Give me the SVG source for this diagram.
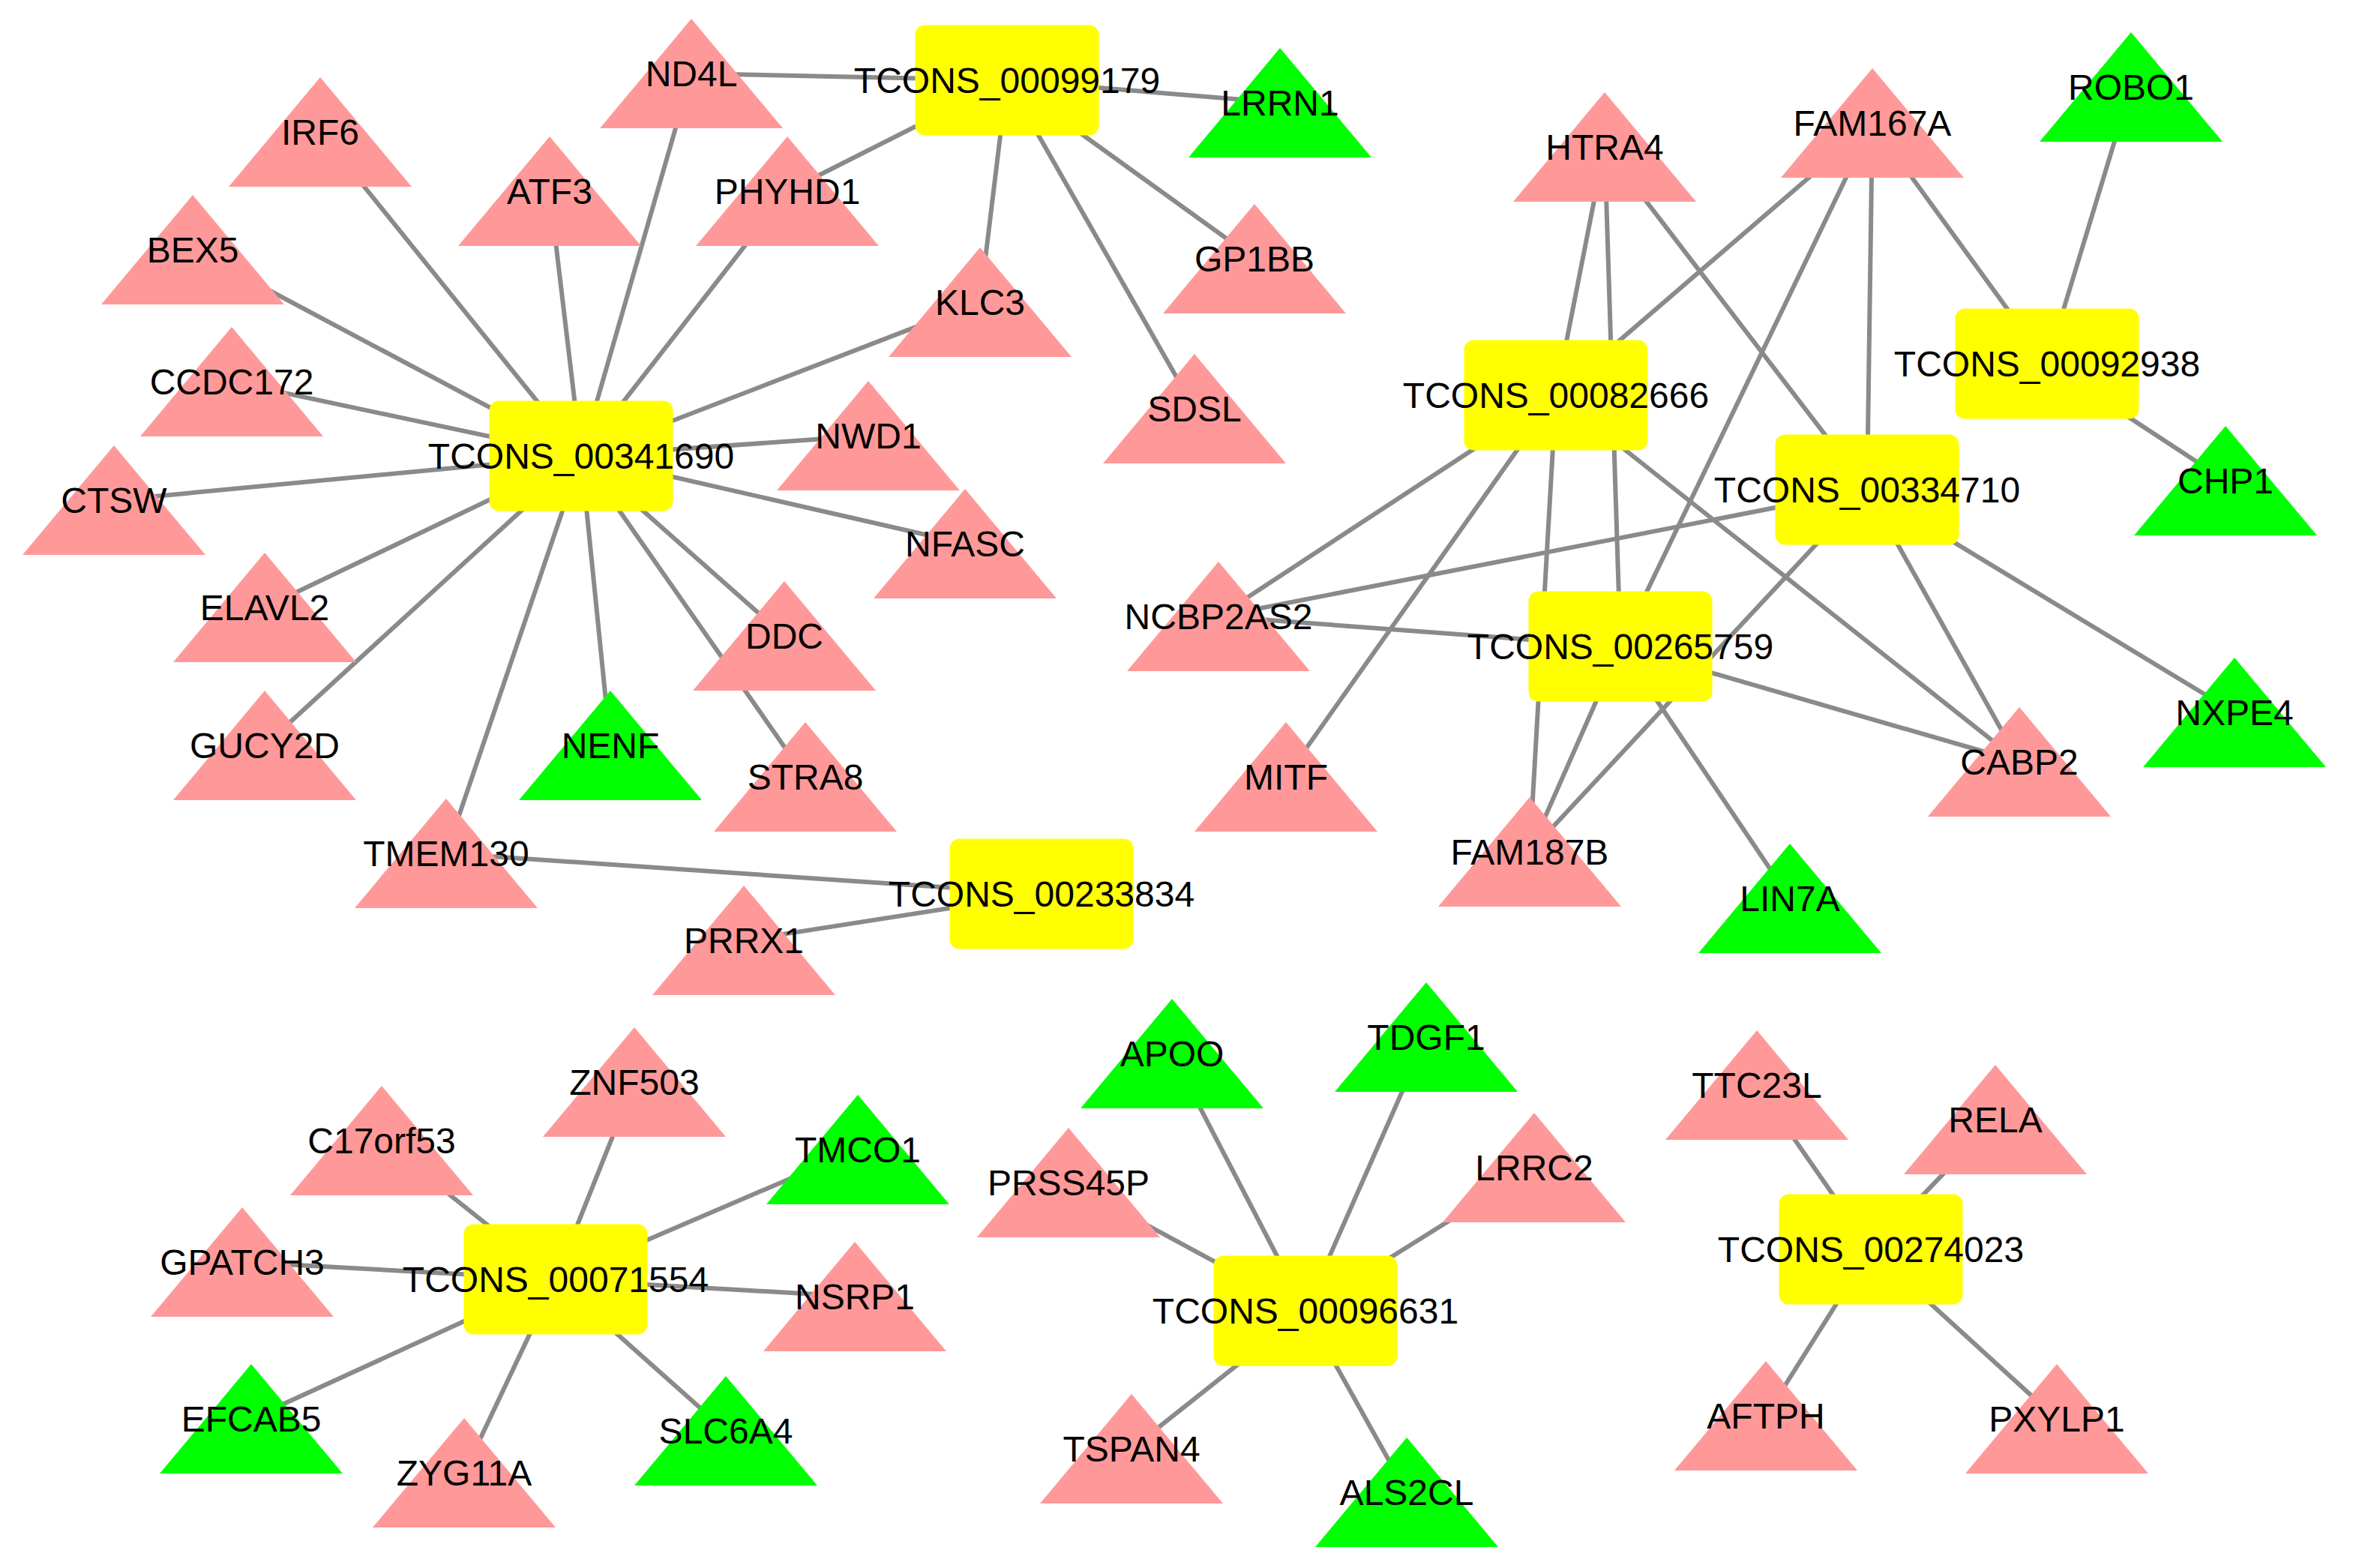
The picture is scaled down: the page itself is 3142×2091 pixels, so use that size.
<svg xmlns="http://www.w3.org/2000/svg" xmlns:xlink="http://www.w3.org/1999/xlink" width="3142" height="2091" viewBox="0 0 3142 2091">
<style>
.e line{stroke:#8a8a8a;stroke-width:6;}
.hub{fill:#FFFF00;}
.pk{fill:#FF9999;}
.gr{fill:#00FF00;}
text{font-family:"Liberation Sans",Arial,sans-serif;font-size:48px;fill:#000;text-anchor:middle;}
</style>
<defs>
<polygon id="tri" points="0,-73 122,73 -122,73"/>
<rect id="box" x="-122.5" y="-73.5" width="245" height="147" rx="13"/>
</defs>
<rect width="3142" height="2091" fill="#fff"/>
<g id="connectors" class="e">
<line x1="775" y1="608" x2="427" y2="176"/>
<line x1="775" y1="608" x2="257" y2="333"/>
<line x1="775" y1="608" x2="309" y2="509"/>
<line x1="775" y1="608" x2="152" y2="667"/>
<line x1="775" y1="608" x2="353" y2="810"/>
<line x1="775" y1="608" x2="353" y2="994"/>
<line x1="775" y1="608" x2="595" y2="1138"/>
<line x1="775" y1="608" x2="814" y2="994"/>
<line x1="775" y1="608" x2="1074" y2="1036"/>
<line x1="775" y1="608" x2="1046" y2="848"/>
<line x1="775" y1="608" x2="1287" y2="725"/>
<line x1="775" y1="608" x2="1158" y2="581"/>
<line x1="775" y1="608" x2="1307" y2="403"/>
<line x1="775" y1="608" x2="1050" y2="255"/>
<line x1="775" y1="608" x2="733" y2="255"/>
<line x1="775" y1="608" x2="922" y2="98"/>
<line x1="1343" y1="107" x2="922" y2="98"/>
<line x1="1343" y1="107" x2="1707" y2="137"/>
<line x1="1343" y1="107" x2="1050" y2="255"/>
<line x1="1343" y1="107" x2="1307" y2="403"/>
<line x1="1343" y1="107" x2="1673" y2="345"/>
<line x1="1343" y1="107" x2="1593" y2="545"/>
<line x1="1389" y1="1192" x2="595" y2="1138"/>
<line x1="1389" y1="1192" x2="992" y2="1254"/>
<line x1="2075" y1="527" x2="2140" y2="196"/>
<line x1="2075" y1="527" x2="2497" y2="164"/>
<line x1="2075" y1="527" x2="1625" y2="822"/>
<line x1="2075" y1="527" x2="1715" y2="1036"/>
<line x1="2075" y1="527" x2="2040" y2="1136"/>
<line x1="2075" y1="527" x2="2693" y2="1016"/>
<line x1="2730" y1="485" x2="2497" y2="164"/>
<line x1="2730" y1="485" x2="2842" y2="116"/>
<line x1="2730" y1="485" x2="2968" y2="641"/>
<line x1="2490" y1="653" x2="2140" y2="196"/>
<line x1="2490" y1="653" x2="2497" y2="164"/>
<line x1="2490" y1="653" x2="1625" y2="822"/>
<line x1="2490" y1="653" x2="2980" y2="950"/>
<line x1="2490" y1="653" x2="2693" y2="1016"/>
<line x1="2490" y1="653" x2="2040" y2="1136"/>
<line x1="2161" y1="862" x2="2140" y2="196"/>
<line x1="2161" y1="862" x2="2497" y2="164"/>
<line x1="2161" y1="862" x2="1625" y2="822"/>
<line x1="2161" y1="862" x2="2693" y2="1016"/>
<line x1="2161" y1="862" x2="2387" y2="1198"/>
<line x1="2161" y1="862" x2="2040" y2="1136"/>
<line x1="741" y1="1706" x2="509" y2="1521"/>
<line x1="741" y1="1706" x2="846" y2="1443"/>
<line x1="741" y1="1706" x2="1144" y2="1533"/>
<line x1="741" y1="1706" x2="323" y2="1683"/>
<line x1="741" y1="1706" x2="1140" y2="1729"/>
<line x1="741" y1="1706" x2="335" y2="1892"/>
<line x1="741" y1="1706" x2="619" y2="1964"/>
<line x1="741" y1="1706" x2="968" y2="1908"/>
<line x1="1741" y1="1748" x2="1563" y2="1405"/>
<line x1="1741" y1="1748" x2="1902" y2="1383"/>
<line x1="1741" y1="1748" x2="1425" y2="1577"/>
<line x1="1741" y1="1748" x2="2046" y2="1557"/>
<line x1="1741" y1="1748" x2="1509" y2="1932"/>
<line x1="1741" y1="1748" x2="1876" y2="1990"/>
<line x1="2495" y1="1666" x2="2343" y2="1447"/>
<line x1="2495" y1="1666" x2="2661" y2="1493"/>
<line x1="2495" y1="1666" x2="2355" y2="1888"/>
<line x1="2495" y1="1666" x2="2743" y2="1892"/>
</g>
<g id="nodes">
<g id="IRF6"><use xlink:href="#tri" x="427" y="176" class="pk"/><text x="427" y="193">IRF6</text></g>
<g id="BEX5"><use xlink:href="#tri" x="257" y="333" class="pk"/><text x="257" y="350">BEX5</text></g>
<g id="CCDC172"><use xlink:href="#tri" x="309" y="509" class="pk"/><text x="309" y="526">CCDC172</text></g>
<g id="CTSW"><use xlink:href="#tri" x="152" y="667" class="pk"/><text x="152" y="684">CTSW</text></g>
<g id="ELAVL2"><use xlink:href="#tri" x="353" y="810" class="pk"/><text x="353" y="827">ELAVL2</text></g>
<g id="GUCY2D"><use xlink:href="#tri" x="353" y="994" class="pk"/><text x="353" y="1011">GUCY2D</text></g>
<g id="TMEM130"><use xlink:href="#tri" x="595" y="1138" class="pk"/><text x="595" y="1155">TMEM130</text></g>
<g id="NENF"><use xlink:href="#tri" x="814" y="994" class="gr"/><text x="814" y="1011">NENF</text></g>
<g id="STRA8"><use xlink:href="#tri" x="1074" y="1036" class="pk"/><text x="1074" y="1053">STRA8</text></g>
<g id="DDC"><use xlink:href="#tri" x="1046" y="848" class="pk"/><text x="1046" y="865">DDC</text></g>
<g id="NFASC"><use xlink:href="#tri" x="1287" y="725" class="pk"/><text x="1287" y="742">NFASC</text></g>
<g id="NWD1"><use xlink:href="#tri" x="1158" y="581" class="pk"/><text x="1158" y="598">NWD1</text></g>
<g id="KLC3"><use xlink:href="#tri" x="1307" y="403" class="pk"/><text x="1307" y="420">KLC3</text></g>
<g id="PHYHD1"><use xlink:href="#tri" x="1050" y="255" class="pk"/><text x="1050" y="272">PHYHD1</text></g>
<g id="ATF3"><use xlink:href="#tri" x="733" y="255" class="pk"/><text x="733" y="272">ATF3</text></g>
<g id="ND4L"><use xlink:href="#tri" x="922" y="98" class="pk"/><text x="922" y="115">ND4L</text></g>
<g id="LRRN1"><use xlink:href="#tri" x="1707" y="137" class="gr"/><text x="1707" y="154">LRRN1</text></g>
<g id="GP1BB"><use xlink:href="#tri" x="1673" y="345" class="pk"/><text x="1673" y="362">GP1BB</text></g>
<g id="SDSL"><use xlink:href="#tri" x="1593" y="545" class="pk"/><text x="1593" y="562">SDSL</text></g>
<g id="PRRX1"><use xlink:href="#tri" x="992" y="1254" class="pk"/><text x="992" y="1271">PRRX1</text></g>
<g id="HTRA4"><use xlink:href="#tri" x="2140" y="196" class="pk"/><text x="2140" y="213">HTRA4</text></g>
<g id="FAM167A"><use xlink:href="#tri" x="2497" y="164" class="pk"/><text x="2497" y="181">FAM167A</text></g>
<g id="ROBO1"><use xlink:href="#tri" x="2842" y="116" class="gr"/><text x="2842" y="133">ROBO1</text></g>
<g id="CHP1"><use xlink:href="#tri" x="2968" y="641" class="gr"/><text x="2968" y="658">CHP1</text></g>
<g id="NXPE4"><use xlink:href="#tri" x="2980" y="950" class="gr"/><text x="2980" y="967">NXPE4</text></g>
<g id="CABP2"><use xlink:href="#tri" x="2693" y="1016" class="pk"/><text x="2693" y="1033">CABP2</text></g>
<g id="LIN7A"><use xlink:href="#tri" x="2387" y="1198" class="gr"/><text x="2387" y="1215">LIN7A</text></g>
<g id="FAM187B"><use xlink:href="#tri" x="2040" y="1136" class="pk"/><text x="2040" y="1153">FAM187B</text></g>
<g id="MITF"><use xlink:href="#tri" x="1715" y="1036" class="pk"/><text x="1715" y="1053">MITF</text></g>
<g id="NCBP2AS2"><use xlink:href="#tri" x="1625" y="822" class="pk"/><text x="1625" y="839">NCBP2AS2</text></g>
<g id="C17orf53"><use xlink:href="#tri" x="509" y="1521" class="pk"/><text x="509" y="1538">C17orf53</text></g>
<g id="ZNF503"><use xlink:href="#tri" x="846" y="1443" class="pk"/><text x="846" y="1460">ZNF503</text></g>
<g id="TMCO1"><use xlink:href="#tri" x="1144" y="1533" class="gr"/><text x="1144" y="1550">TMCO1</text></g>
<g id="GPATCH3"><use xlink:href="#tri" x="323" y="1683" class="pk"/><text x="323" y="1700">GPATCH3</text></g>
<g id="NSRP1"><use xlink:href="#tri" x="1140" y="1729" class="pk"/><text x="1140" y="1746">NSRP1</text></g>
<g id="EFCAB5"><use xlink:href="#tri" x="335" y="1892" class="gr"/><text x="335" y="1909">EFCAB5</text></g>
<g id="ZYG11A"><use xlink:href="#tri" x="619" y="1964" class="pk"/><text x="619" y="1981">ZYG11A</text></g>
<g id="SLC6A4"><use xlink:href="#tri" x="968" y="1908" class="gr"/><text x="968" y="1925">SLC6A4</text></g>
<g id="APOO"><use xlink:href="#tri" x="1563" y="1405" class="gr"/><text x="1563" y="1422">APOO</text></g>
<g id="TDGF1"><use xlink:href="#tri" x="1902" y="1383" class="gr"/><text x="1902" y="1400">TDGF1</text></g>
<g id="PRSS45P"><use xlink:href="#tri" x="1425" y="1577" class="pk"/><text x="1425" y="1594">PRSS45P</text></g>
<g id="LRRC2"><use xlink:href="#tri" x="2046" y="1557" class="pk"/><text x="2046" y="1574">LRRC2</text></g>
<g id="TSPAN4"><use xlink:href="#tri" x="1509" y="1932" class="pk"/><text x="1509" y="1949">TSPAN4</text></g>
<g id="ALS2CL"><use xlink:href="#tri" x="1876" y="1990" class="gr"/><text x="1876" y="2007">ALS2CL</text></g>
<g id="TTC23L"><use xlink:href="#tri" x="2343" y="1447" class="pk"/><text x="2343" y="1464">TTC23L</text></g>
<g id="RELA"><use xlink:href="#tri" x="2661" y="1493" class="pk"/><text x="2661" y="1510">RELA</text></g>
<g id="AFTPH"><use xlink:href="#tri" x="2355" y="1888" class="pk"/><text x="2355" y="1905">AFTPH</text></g>
<g id="PXYLP1"><use xlink:href="#tri" x="2743" y="1892" class="pk"/><text x="2743" y="1909">PXYLP1</text></g>
<g id="TCONS_00341690"><use xlink:href="#box" x="775" y="608" class="hub"/><text x="775" y="625">TCONS_00341690</text></g>
<g id="TCONS_00099179"><use xlink:href="#box" x="1343" y="107" class="hub"/><text x="1343" y="124">TCONS_00099179</text></g>
<g id="TCONS_00233834"><use xlink:href="#box" x="1389" y="1192" class="hub"/><text x="1389" y="1209">TCONS_00233834</text></g>
<g id="TCONS_00082666"><use xlink:href="#box" x="2075" y="527" class="hub"/><text x="2075" y="544">TCONS_00082666</text></g>
<g id="TCONS_00092938"><use xlink:href="#box" x="2730" y="485" class="hub"/><text x="2730" y="502">TCONS_00092938</text></g>
<g id="TCONS_00334710"><use xlink:href="#box" x="2490" y="653" class="hub"/><text x="2490" y="670">TCONS_00334710</text></g>
<g id="TCONS_00265759"><use xlink:href="#box" x="2161" y="862" class="hub"/><text x="2161" y="879">TCONS_00265759</text></g>
<g id="TCONS_00071554"><use xlink:href="#box" x="741" y="1706" class="hub"/><text x="741" y="1723">TCONS_00071554</text></g>
<g id="TCONS_00096631"><use xlink:href="#box" x="1741" y="1748" class="hub"/><text x="1741" y="1765">TCONS_00096631</text></g>
<g id="TCONS_00274023"><use xlink:href="#box" x="2495" y="1666" class="hub"/><text x="2495" y="1683">TCONS_00274023</text></g>
</g>
</svg>
